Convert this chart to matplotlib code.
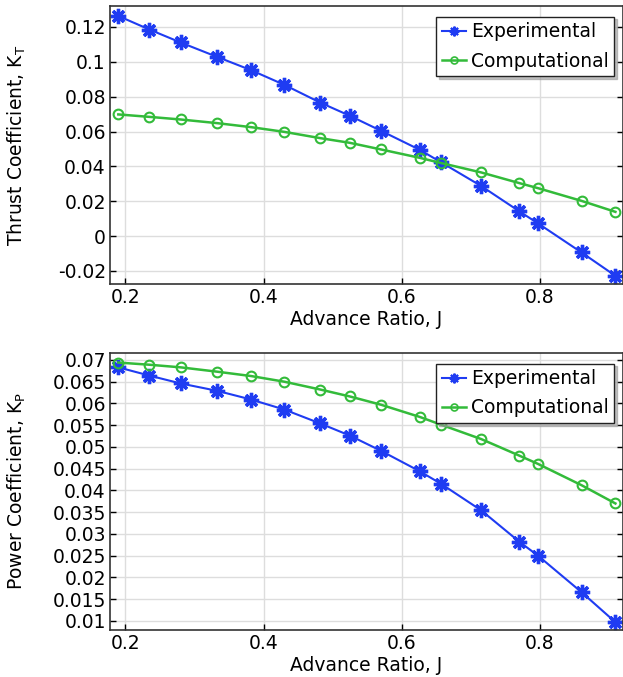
import matplotlib
matplotlib.use("Agg")
import matplotlib.pyplot as plt

# advance ratio J for each test point
J = [0.190, 0.235, 0.280, 0.333, 0.382, 0.430, 0.482, 0.525,
     0.570, 0.626, 0.657, 0.715, 0.770, 0.797, 0.860, 0.909]

# thrust coefficient
kt_exp = [0.1263, 0.1185, 0.1111, 0.1028, 0.0952, 0.0868, 0.0766, 0.0690,
          0.0604, 0.0495, 0.0423, 0.0287, 0.0142, 0.0073, -0.0094, -0.0228]
kt_comp = [0.0698, 0.0684, 0.0669, 0.0648, 0.0625, 0.0598, 0.0562, 0.0535,
           0.0497, 0.0449, 0.0419, 0.0365, 0.0304, 0.0275, 0.0202, 0.0139]

# power coefficient
kp_exp = [0.0683, 0.0664, 0.0646, 0.0629, 0.0609, 0.0586, 0.0554, 0.0526,
          0.0491, 0.0444, 0.0415, 0.0354, 0.0282, 0.0250, 0.0166, 0.0097]
kp_comp = [0.0694, 0.0689, 0.0683, 0.0673, 0.0663, 0.0650, 0.0632, 0.0616,
           0.0597, 0.0569, 0.0551, 0.0518, 0.0480, 0.0461, 0.0412, 0.0370]

kt_ticks = [-0.02, 0, 0.02, 0.04, 0.06, 0.08, 0.1, 0.12]
kp_ticks = [0.01, 0.015, 0.02, 0.025, 0.03, 0.035, 0.04, 0.045, 0.05,
            0.055, 0.06, 0.065, 0.07]
j_ticks = [0.2, 0.4, 0.6, 0.8]

BLUE = "#1f3cf2"
GREEN = "#33bb3a"

plt.rcParams["font.family"] = "DejaVu Sans"
plt.rcParams["font.size"] = 13.5
plt.rcParams["mathtext.fontset"] = "dejavusans"

fig = plt.figure(figsize=(6.23, 6.77), dpi=100)
ax1 = fig.add_axes([0.1766, 0.5805, 0.8234, 0.4106])
ax2 = fig.add_axes([0.1766, 0.0694, 0.8234, 0.4092])


def style(ax, yticks, ylim):
    ax.set_xlim(0.178, 0.92)
    ax.set_ylim(*ylim)
    ax.set_xticks(j_ticks)
    ax.set_xticklabels(["%g" % t for t in j_ticks])
    ax.set_yticks(yticks)
    ax.set_yticklabels(["%g" % t for t in yticks])
    ax.grid(True, color="#dddddd", linewidth=1)
    ax.set_axisbelow(True)
    ax.tick_params(direction="in", length=4, width=1, right=True, top=False,
                   pad=3)
    for s in ax.spines.values():
        s.set_color("#333333")
        s.set_linewidth(1.2)
    ax.set_xlabel("Advance Ratio, J", labelpad=2)
    ax.yaxis.set_label_coords(-0.16, 0.5)


def plot_pair(ax, exp, comp):
    ax.plot(J, exp, color=BLUE, lw=1.5, marker=(8, 2, 0), ms=11, mew=2.4,
            label="Experimental")
    ax.plot(J, comp, color=GREEN, lw=1.8, marker="o", ms=7, mew=1.5,
            mfc="none", label="Computational")
    leg = ax.legend(loc="upper right", bbox_to_anchor=(0.983, 0.962),
                    borderaxespad=0, fancybox=False,
                    shadow={"ox": 2, "oy": -2, "color": "#999999", "alpha": 0.6},
                    framealpha=1, edgecolor="#222222", handlelength=1.3,
                    handletextpad=0.25, borderpad=0.3, labelspacing=0.55)
    leg.get_frame().set_linewidth(1.0)
    h_exp, h_comp = leg.legend_handles
    h_exp.set_markersize(7)
    h_exp.set_markeredgewidth(1.5)
    h_comp.set_markersize(5)
    h_comp.set_markeredgewidth(1.2)


plot_pair(ax1, kt_exp, kt_comp)
style(ax1, kt_ticks, (-0.0275, 0.132))
ax1.set_ylabel("Thrust Coefficient, K$_\\mathrm{T}$")

plot_pair(ax2, kp_exp, kp_comp)
style(ax2, kp_ticks, (0.0079, 0.0716))
ax2.set_ylabel("Power Coefficient, K$_\\mathrm{P}$")

fig.savefig("out.png", dpi=100)
